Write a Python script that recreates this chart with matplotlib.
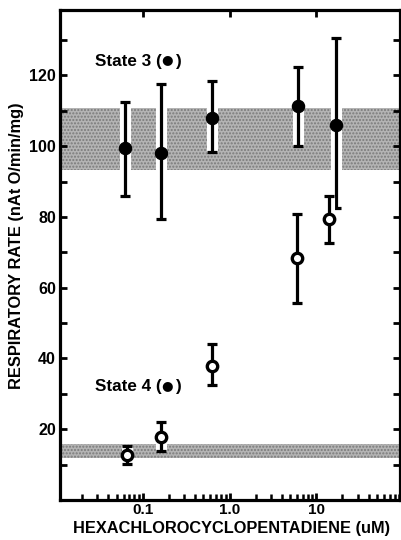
import matplotlib
matplotlib.use("Agg")
import matplotlib.pyplot as plt
import matplotlib.patheffects as pe
from matplotlib.ticker import FixedLocator, LogLocator, NullFormatter, FuncFormatter

plt.rcParams['font.family'] = ['Liberation Sans', 'DejaVu Sans']

# State 3 (filled)
s3_x = [0.062, 0.16, 0.63, 6.1, 17.0]
s3_y = [99.5, 98.0, 108.0, 111.5, 106.0]
s3_hi = [112.5, 117.5, 118.3, 122.5, 130.5]
s3_lo = [86.0, 79.5, 98.5, 100.0, 82.5]

# State 4 (open)
s4_x = [0.065, 0.16, 0.63, 6.0, 14.0]
s4_y = [12.8, 17.9, 38.0, 68.3, 79.3]
s4_hi = [15.2, 22.0, 44.2, 80.8, 85.8]
s4_lo = [10.3, 13.8, 32.5, 55.8, 72.6]

band3 = (93.3, 110.8)
band4 = (11.8, 15.9)

xticks = [0.1, 1.0, 10]
xticklabels = ['0.1', '1.0', '10']
yticks_labeled = [20, 40, 60, 80, 100, 120]

fig = plt.figure(figsize=(4.02, 5.40), dpi=100)
ax = fig.add_axes([60/402, 40/540, 340/402, 490/540])
ax.set_xscale('log')
ax.set_xlim(0.0111, 92)
ax.set_ylim(0, 138.5)

band_kw = dict(facecolor='#b4b4b4', edgecolor='#7a7a7a', hatch='.....', linewidth=0, zorder=1)
ax.axhspan(band3[0], band3[1], **band_kw)
ax.axhspan(band4[0], band4[1], **band_kw)

stroke = [pe.withStroke(linewidth=8, foreground='white')]

def draw(xs, ys, hi, lo, filled):
    yerr = [[y - l for y, l in zip(ys, lo)], [h - y for y, h in zip(ys, hi)]]
    cont = ax.errorbar(xs, ys, yerr=yerr, fmt='none', ecolor='black',
                       elinewidth=2.3, capsize=3.4, capthick=2.3, zorder=3)
    for lc in cont[2]:
        lc.set_path_effects(stroke)
    if filled:
        ax.plot(xs, ys, 'o', color='black', markersize=8.7, zorder=4)
    else:
        ax.plot(xs, ys, 'o', markerfacecolor='white', markeredgecolor='black',
                markeredgewidth=2.4, markersize=7.5, zorder=4)

draw(s3_x, s3_y, s3_hi, s3_lo, True)
draw(s4_x, s4_y, s4_hi, s4_lo, False)

def state_label(x, y, txt):
    t1 = ax.text(x, y, txt + ' (', fontsize=12.3, fontweight='bold', ha='left', va='center')
    ax.annotate('●', xy=(1, 0.5), xycoords=t1, xytext=(0, 1.2), textcoords='offset points',
                ha='left', va='center', fontsize=9.5, family=['DejaVu Sans'])
    ax.annotate(')', xy=(1, 0.5), xycoords=t1, xytext=(9.6, 0), textcoords='offset points',
                ha='left', va='center', fontsize=12.3, fontweight='bold')

state_label(0.028, 124, 'State 3')
state_label(0.028, 32, 'State 4')

for s in ax.spines.values():
    s.set_linewidth(2.3)

ax.xaxis.set_major_locator(FixedLocator(xticks))
ax.set_xticklabels(xticklabels)
ax.xaxis.set_minor_locator(LogLocator(base=10, subs=range(2, 10)))
ax.xaxis.set_minor_formatter(NullFormatter())
ax.tick_params(axis='x', which='major', direction='in', top=True, bottom=True,
               length=5, width=2, labelsize=11, pad=2)
ax.tick_params(axis='x', which='minor', direction='in', top=False, bottom=True,
               length=4, width=1.8)

ax.yaxis.set_major_locator(FixedLocator(list(range(10, 131, 10))))
ax.yaxis.set_major_formatter(FuncFormatter(lambda v, p: f'{int(v)}' if int(v) in yticks_labeled else ''))
ax.tick_params(axis='y', which='major', direction='in', left=True, right=True,
               length=5, width=2, labelsize=11.5, pad=3)
for lab in ax.get_xticklabels() + ax.get_yticklabels():
    lab.set_fontweight('bold')

ax.set_xlabel('HEXACHLOROCYCLOPENTADIENE (uM)', fontsize=11.8, fontweight='bold')
ax.xaxis.set_label_coords(0.506, -0.043)
ax.set_ylabel('RESPIRATORY RATE (nAt O/min/mg)', fontsize=11.8, fontweight='bold')
ax.yaxis.set_label_coords(-0.107, 0.518)

fig.savefig('out.png', dpi=100)
